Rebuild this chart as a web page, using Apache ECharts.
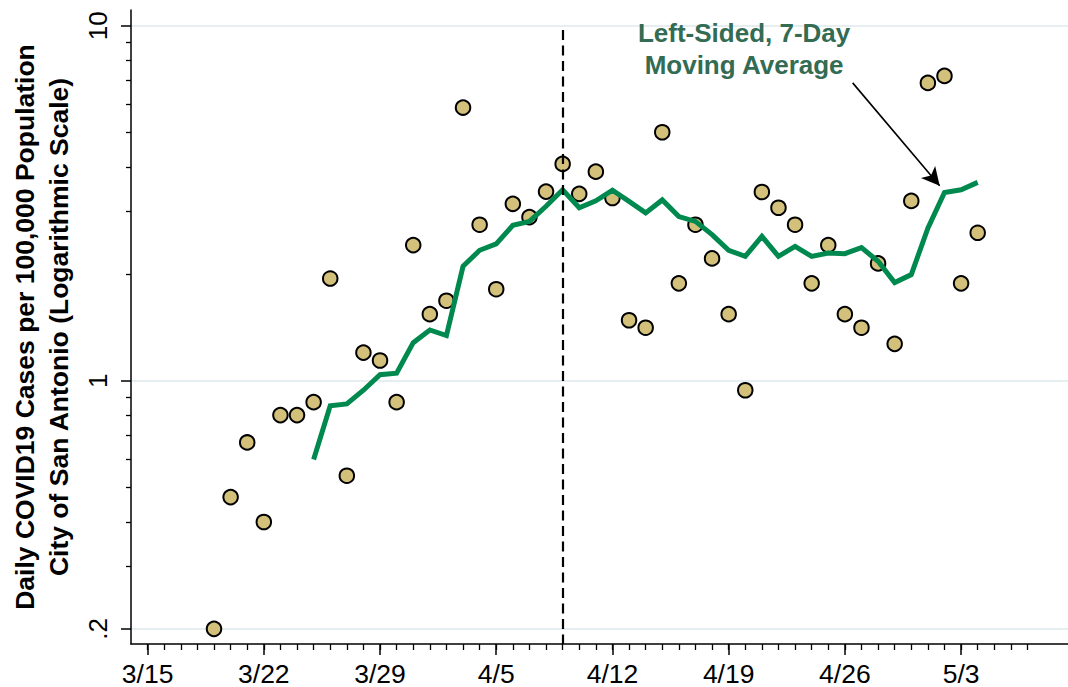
<!DOCTYPE html>
<html>
<head>
<meta charset="utf-8">
<script src="https://cdn.jsdelivr.net/npm/echarts@6/dist/echarts.min.js"></script>
<style>
html,body{margin:0;padding:0;background:#fff;}
#chart{width:1068px;height:687px;}
</style>
</head>
<body>
<div id="chart"></div>
<script>
// ---- data ----
const dates = ['3/19','3/20','3/21','3/22','3/23','3/24','3/25','3/26','3/27','3/28','3/29','3/30','3/31',
  '4/1','4/2','4/3','4/4','4/5','4/6','4/7','4/8','4/9','4/10','4/11','4/12','4/13','4/14','4/15','4/16',
  '4/17','4/18','4/19','4/20','4/21','4/22','4/23','4/24','4/25','4/26','4/27','4/28','4/29','4/30',
  '5/1','5/2','5/3','5/4'];
const dailyCases = [0.20,0.47,0.67,0.40,0.80,0.80,0.87,1.94,0.54,1.20,1.14,0.87,2.41,
  1.54,1.68,5.88,2.75,1.81,3.15,2.89,3.41,4.08,3.36,3.88,3.27,1.48,1.41,5.01,1.88,
  2.75,2.21,1.54,0.94,3.40,3.07,2.75,1.88,2.41,1.54,1.41,2.14,1.27,3.21,
  6.90,7.22,1.88,2.61];
const movingAverage = [null,null,null,null,null,null,0.60,0.85,0.86,0.94,1.04,1.05,1.28,
  1.39,1.34,2.10,2.33,2.43,2.74,2.81,3.10,3.45,3.07,3.21,3.44,3.20,2.97,3.23,2.90,
  2.81,2.58,2.33,2.24,2.55,2.24,2.39,2.24,2.29,2.28,2.37,2.17,1.89,1.99,
  2.69,3.39,3.45,3.62];
const xTickLabels = ['3/15','3/22','3/29','4/5','4/12','4/19','4/26','5/3'];
const yMajorTicks = [0.2, 1, 10];
const yMinorTicks = [0.3,0.4,0.5,0.6,0.7,0.8,0.9,2,3,4,5,6,7,8,9];
const interventionDate = '4/9';
const annotationLines = ['Left-Sided, 7-Day', 'Moving Average'];

// ---- helpers ----
const DAY = 86400000;
const ORIGIN = Date.UTC(2020, 2, 14);
function dayIndex(md) {
  const p = md.split('/');
  return (Date.UTC(2020, +p[0] - 1, +p[1]) - ORIGIN) / DAY;
}
const xMin = 0, xMax = 56.44;
const yMin = 0.1813, yMax = 11.07;
const firstMinor = dayIndex('3/15'), lastMinor = dayIndex('5/7');
const xMinorTicks = [];
for (let d = firstMinor; d <= lastMinor; d++) xMinorTicks.push(d);
const xMajorTicks = xTickLabels.map(dayIndex);
const labelByIndex = {};
xTickLabels.forEach(l => { labelByIndex[dayIndex(l)] = l; });

const FONT = '"Liberation Sans", Arial, Helvetica, sans-serif';
const scatterData = dates.map((d, i) => [dayIndex(d), dailyCases[i]]);
const lineData = dates.map((d, i) => movingAverage[i] == null ? null : [dayIndex(d), movingAverage[i]])
  .filter(p => p !== null);

const chart = echarts.init(document.getElementById('chart'), null, {renderer: 'svg'});
const option = {
  animation: false,
  backgroundColor: '#fff',
  grid: {left: 127, right: 0, top: 10, bottom: 42, containLabel: false},
  xAxis: [
    {
      type: 'value', min: xMin, max: xMax, position: 'bottom',
      axisLine: {show: true, onZero: false, lineStyle: {color: '#000', width: 1.5}},
      axisTick: {show: true, customValues: xMajorTicks, length: 11, lineStyle: {color: '#000', width: 1.5}},
      axisLabel: {show: true, customValues: xMajorTicks, formatter: v => labelByIndex[Math.round(v)] || '',
        color: '#000', fontSize: 26.5, fontFamily: FONT, margin: 16},
      splitLine: {show: false}
    },
    {
      type: 'value', min: xMin, max: xMax, position: 'bottom',
      axisLine: {show: false, onZero: false},
      axisTick: {show: true, customValues: xMinorTicks, length: 6, lineStyle: {color: '#000', width: 1.3}},
      axisLabel: {show: false},
      splitLine: {show: false}
    }
  ],
  yAxis: [
    {
      type: 'log', logBase: 10, min: yMin, max: yMax, position: 'left',
      axisLine: {show: true, onZero: false, lineStyle: {color: '#000', width: 1.5}},
      axisTick: {show: true, customValues: yMajorTicks, length: 10, lineStyle: {color: '#000', width: 1.5}},
      axisLabel: {show: true, customValues: yMajorTicks, rotate: 90, margin: 20,
        formatter: v => (v < 1 ? String(+v.toFixed(4)).replace(/^0/, '') : String(+v.toFixed(4))),
        color: '#000', fontSize: 26, fontFamily: FONT},
      splitLine: {show: true, lineStyle: {color: '#e6eef1', width: 2}},
      name: 'Daily COVID19 Cases per 100,000 Population\nCity of San Antonio (Logarithmic Scale)',
      nameLocation: 'middle', nameGap: 55,
      nameTextStyle: {color: '#000', fontSize: 26.5, fontWeight: 'bold', fontFamily: FONT, lineHeight: 34}
    },
    {
      type: 'log', logBase: 10, min: yMin, max: yMax, position: 'left',
      axisLine: {show: false, onZero: false},
      axisTick: {show: true, customValues: yMinorTicks, length: 5, lineStyle: {color: '#000', width: 1.3}},
      axisLabel: {show: false},
      splitLine: {show: false}
    }
  ],
  series: [
    {
      type: 'line', name: 'ref', data: [], z: 1, silent: true,
      markLine: {
        silent: true, symbol: ['none', 'none'], label: {show: false}, animation: false,
        lineStyle: {color: '#000', width: 2.2, type: [10, 5.5]},
        data: [[{coord: [dayIndex(interventionDate), 9.72]}, {coord: [dayIndex(interventionDate), yMin]}]]
      }
    },
    {
      type: 'scatter', name: 'Daily cases', data: scatterData, z: 2,
      symbol: 'circle', symbolSize: 14.5,
      itemStyle: {color: '#d3c07b', borderColor: '#000', borderWidth: 2, opacity: 1}
    },
    {
      type: 'line', name: '7-day MA', data: lineData, z: 3,
      symbol: 'none', showSymbol: false,
      lineStyle: {color: '#00894f', width: 5, cap: 'butt', join: 'miter'},
      markLine: {
        silent: true, symbol: ['none', 'arrow'], symbolSize: [14, 18], label: {show: false}, animation: false,
        lineStyle: {color: '#000', width: 1.6, type: 'solid'},
        data: [[{coord: [43.47, 6.9]}, {coord: [48.71, 3.54]}]]
      },
      markPoint: {
        silent: true, symbol: 'circle', symbolSize: 1, itemStyle: {color: 'rgba(0,0,0,0)'}, animation: false,
        data: [{
          coord: [36.93, 8.6],
          label: {show: true, position: 'inside', formatter: annotationLines.join('\n'),
            color: '#336b53', fontSize: 26, fontWeight: 'bold', fontFamily: FONT, lineHeight: 32,
            align: 'center', verticalAlign: 'middle'}
        }]
      }
    }
  ]
};
chart.setOption(option);
</script>
</body>
</html>
